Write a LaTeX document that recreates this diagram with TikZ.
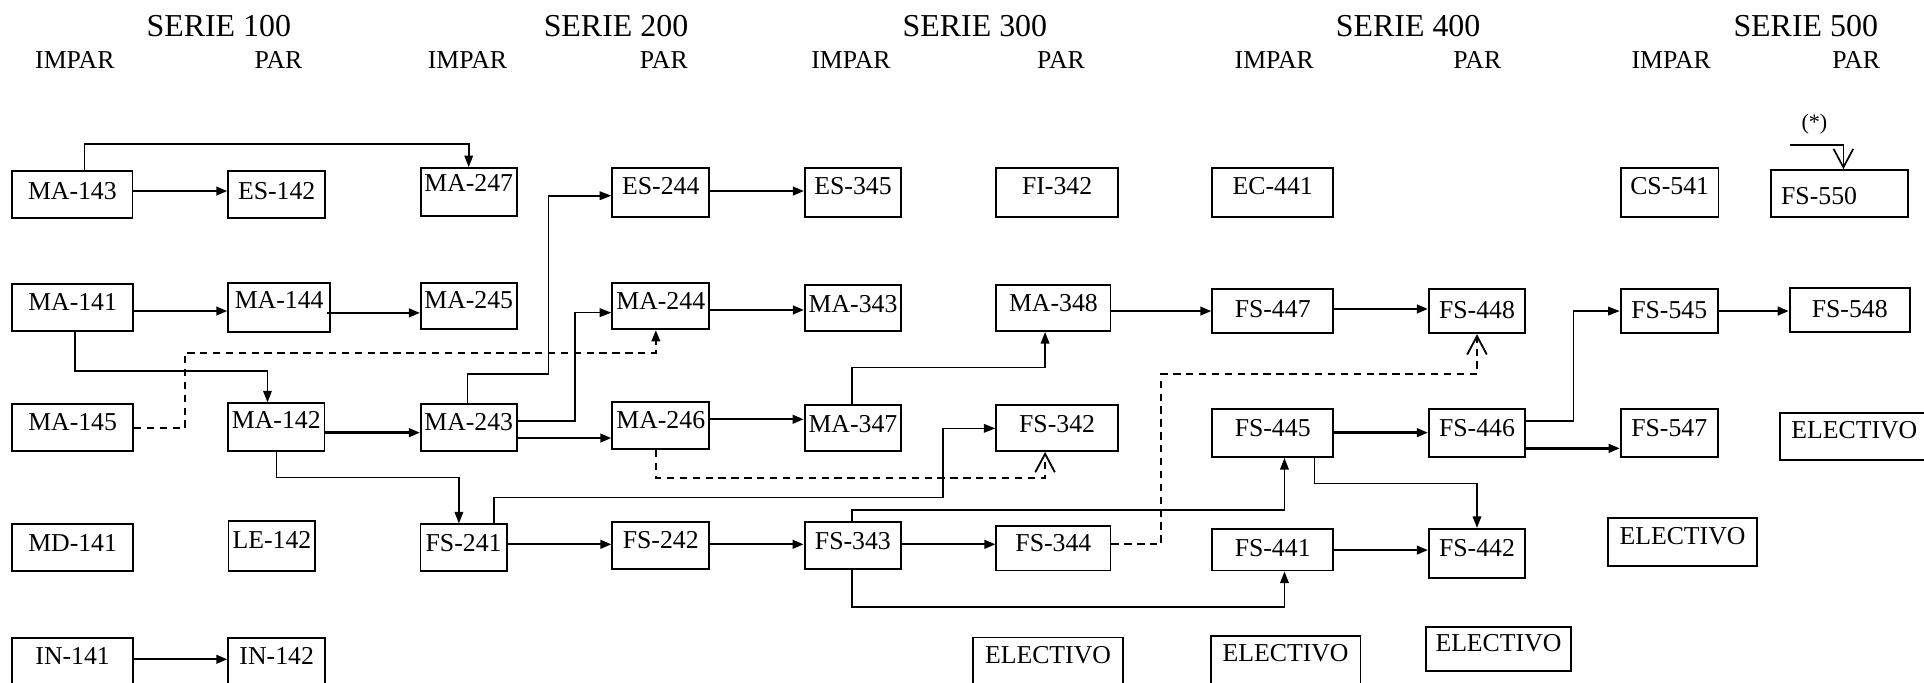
\documentclass[tikz,border=0pt]{standalone}
\usepackage{fontspec}
\setmainfont{Liberation Serif}
\usetikzlibrary{arrows.meta}
\tikzset{
 box/.style={draw, line width=1.5pt, inner sep=0pt, font=\fontsize{21}{25}\selectfont},
 thk/.style={line width=1.9pt, -{Triangle[length=9pt,width=7pt]}},
 thn/.style={line width=1.35pt, -{Triangle[length=9.5pt,width=7pt]}},
 dsh/.style={line width=1.5pt, dash pattern=on 6pt off 4.5pt},
 dtri/.style={dsh, -{Triangle[length=9pt,width=7pt]}},
 dbarb/.style={dsh, -{Straight Barb[length=15pt,width=16pt]}},
 obarb/.style={line width=1.4pt, -{Straight Barb[length=15pt,width=16pt]}},
 hdr/.style={anchor=base, font=\fontsize{26}{30}\selectfont},
 sub/.style={anchor=base, font=\fontsize{21}{25}\selectfont},
}
% [text right pad]{name}{cx}{cy}{w}{h}{raise}{text}
\newcommand\bx[8][0]{\node[box, minimum width=#5pt, minimum height=#6pt] (#2) at (#3,#4) {\raisebox{\dimexpr#7pt-6.9pt\relax}[0pt][0pt]{#8}\hspace*{#1pt}};}
% [style]{from}{to}{yshift at source}
\newcommand\harr[4][thk]{\coordinate (#2to#3) at ([yshift=#4pt]#2.east); \draw[#1] (#2to#3) -- (#2to#3 -| #3.west);}
\begin{document}
\begin{tikzpicture}[x=1pt,y=-1pt]
\path[use as bounding box] (0,0) rectangle (1568,556);
% headers
\node[hdr] (s1) at (178.3,29.9) {SERIE 100};
\node[sub] (i1) at (61,55.7) {IMPAR};
\node[sub] (p1) at (227,55.7) {PAR};
\node[hdr] (s2) at (502,29.9) {SERIE 200};
\node[sub] (i2) at (381,55.7) {IMPAR};
\node[sub] (p2) at (541,55.7) {PAR};
\node[hdr] (s3) at (794.5,29.9) {SERIE 300};
\node[sub] (i3) at (693.5,55.7) {IMPAR};
\node[sub] (p3) at (864.6,55.7) {PAR};
\node[hdr] (s4) at (1147.6,29.9) {SERIE 400};
\node[sub] (i4) at (1038.5,55.7) {IMPAR};
\node[sub] (p4) at (1204,55.7) {PAR};
\node[hdr] (s5) at (1471.6,29.9) {SERIE 500};
\node[sub] (i5) at (1362,55.7) {IMPAR};
\node[sub] (p5) at (1512.8,55.7) {PAR};
\node[font=\fontsize{18}{20}\selectfont, inner sep=0pt] (ast) at (1478.7,101) {(*)};
% row 1
\bx{ma143}{59}{158.4}{98}{38}{3}{MA-143}
\bx{es142}{225.5}{158.4}{79}{38}{2.4}{ES-142}
\bx{ma247}{382}{156.5}{78}{39}{7}{MA-247}
\bx{es244}{538.5}{157}{79}{40}{5}{ES-244}
\bx{es345}{695.2}{157}{78.5}{40}{5}{ES-345}
\bx{fi342}{861.5}{157}{99}{40}{5}{FI-342}
\bx{ec441}{1037.2}{157}{98.5}{40}{5.5}{EC-441}
\bx{cs541}{1360.7}{157}{79.5}{40}{5.5}{CS-541}
\bx[33]{fs550}{1499}{157.6}{112}{38}{-1.9}{FS-550}
% row 2
\bx{ma141}{59.2}{250.6}{98.4}{37.8}{4.5}{MA-141}
\bx{ma144}{227.5}{250.6}{83}{40.4}{6}{MA-144}
\bx{ma245}{382}{249.4}{78}{38}{4.6}{MA-245}
\bx{ma244}{538.5}{249.4}{79}{38}{4}{MA-244}
\bx{ma343}{695.2}{251}{78.5}{37.5}{3.4}{MA-343}
\bx{ma348}{858.5}{251}{93}{37.5}{4}{MA-348}
\bx{fs447}{1037.2}{253.7}{98.5}{35.8}{1.5}{FS-447}
\bx{fs448}{1203.7}{253.7}{78.5}{35.8}{0.7}{FS-448}
\bx{fs545}{1360.4}{253.7}{79.2}{35.8}{1}{FS-545}
\bx{fs548}{1507.5}{252.7}{98}{36.4}{1}{FS-548}
% row 3
\bx{ma145}{59.2}{348.5}{98.4}{38}{4.3}{MA-145}
\bx{ma142}{225.2}{348}{78.5}{38.6}{5.7}{MA-142}
\bx{ma243}{382}{348.4}{78}{37.8}{4.4}{MA-243}
\bx{ma246}{538.5}{347}{79}{38.1}{4.7}{MA-246}
\bx{ma347}{695.1}{348.8}{78.8}{37.5}{3.6}{MA-347}
\bx{fs342}{861.5}{348.8}{99}{37.5}{3}{FS-342}
\bx{fs445}{1037.2}{353}{98.5}{38.9}{4}{FS-445}
\bx{fs446}{1203.7}{353}{78.5}{38.9}{4}{FS-446}
\bx{fs547}{1360.4}{353}{79.2}{38.9}{4}{FS-547}
\bx{elten}{1511.2}{355.7}{121.5}{38.6}{5}{ELECTIVO}
% row 4
\bx{md141}{59.2}{446.2}{98.4}{37.7}{3.8}{MD-141}
\bx{le142}{221.6}{444.7}{70.7}{40.7}{5}{LE-142}
\bx{fs241}{377.8}{446.2}{70.3}{37.7}{3.4}{FS-241}
\bx{fs242}{538.5}{444.7}{79}{38}{4.2}{FS-242}
\bx{fs343}{695.1}{444.7}{78.8}{38}{4}{FS-343}
\bx{fs344}{858.5}{446.7}{93}{36.6}{4}{FS-344}
\bx{fs441}{1037.2}{448}{98.5}{34}{1}{FS-441}
\bx{fs442}{1203.7}{450.9}{78.5}{39.8}{4}{FS-442}
\bx{elnine}{1371.2}{441.6}{121.9}{39.4}{5}{ELECTIVO}
% row 5
\bx{in141}{59.2}{540.1}{98.4}{39.8}{5.3}{IN-141}
\bx{in142}{225.5}{540.1}{79}{39.8}{5.3}{IN-142}
\bx{elsix}{854.1}{539.8}{122.6}{40.4}{5.6}{ELECTIVO}
\bx{elseven}{1047.7}{539.2}{122.2}{41.7}{6.6}{ELECTIVO}
\bx{eleight}{1221.2}{528.7}{117.7}{35.9}{4.9}{ELECTIVO}
% straight arrows
\harr{ma143}{es142}{2.7}
\harr{ma141}{ma144}{-2.9}
\coordinate (ma144toma245) at ([xshift=-3.3pt,yshift=-4.4pt]ma144.east);
\draw[thk] (ma144toma245) -- (ma144toma245 -| ma245.west);
\harr{ma142}{ma243}{-4.6}
\harr{ma243}{ma246}{-8.6}
\harr{es244}{es345}{1.3}
\harr{ma244}{ma343}{-3.2}
\harr{ma246}{ma347}{5.3}
\harr{fs241}{fs242}{2.6}
\harr{fs242}{fs343}{1.1}
\harr{fs343}{fs344}{1.1}
\harr{ma348}{fs447}{-2.5}
\harr{fs447}{fs448}{1.9}
\harr{fs445}{fs446}{0.4}
\harr{fs441}{fs442}{-0.3}
\harr{fs446}{fs547}{-12.4}
\harr{fs545}{fs548}{0.2}
\harr{in141}{in142}{2.8}
% elbow connectors
\draw[thn] ([xshift=10pt]ma143.north) -- ++(0,-21.2) -| (ma247.north);
\draw[thn] ([xshift=1.8pt]ma141.south) -- ++(0,32) -| ([xshift=-7.2pt]ma142.north);
\draw[thn] (ma142.south) -- ++(0,21.2) -| ([xshift=-3.8pt]fs241.north);
\draw[thn] ([xshift=-1pt]ma243.north) -- ++(0,-23.9) -- ++(66,0) |- ([yshift=-2.5pt]es244.west);
\draw[thn] ([yshift=5.4pt]ma243.east) -- ++(47,0) |- ([yshift=-5.4pt]ma244.west);
\draw[thn] ([xshift=25pt]fs241.north) -- ++(0,-21.2) -- ++(365.6,0) |- ([yshift=-0.3pt]fs342.west);
\draw[thn] ([xshift=-0.6pt]ma347.north) -- ++(0,-29.8) -| ([xshift=-6.8pt]ma348.south);
\draw[thn] ([xshift=-0.6pt]fs343.north) -- ++(0,-9.4) -| ([xshift=9.6pt]fs445.south);
\draw[thn] ([xshift=-0.6pt]fs343.south) -- ++(0,30.2) -| ([xshift=9.6pt]fs441.south);
\draw[thn] ([xshift=34.1pt]fs445.south) -- ++(0,20.9) -| (fs442.north);
\draw[thn] ([yshift=9.9pt]fs446.east) -- ++(38.5,0) |- ([yshift=0.2pt]fs545.west);
% dashed connectors
\draw[dtri] ([yshift=-0.5pt]ma145.east) -- ++(41.6,0) -- ++(0,-61.6) -| ([xshift=-4pt]ma244.south);
\draw[dbarb] ([xshift=-4pt]ma246.south) -- ++(0,22.5) -| ([xshift=-9.8pt]fs342.south);
\draw[dbarb] ([yshift=3.1pt]fs344.east) -- ++(40.6,0) -- ++(0,-138.6) -| (fs448.south);
% (*) arrow
\coordinate (astline) at (1458.5,118.2);
\draw[obarb] (astline) -| ([xshift=3.3pt]fs550.north);
\end{tikzpicture}
\end{document}
